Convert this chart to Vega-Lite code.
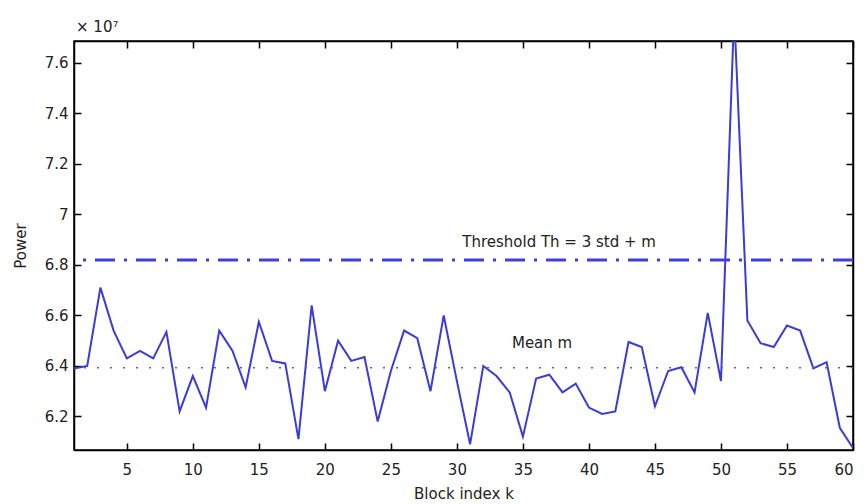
{
  "$schema": "https://vega.github.io/schema/vega-lite/v6.json",
  "width": 779,
  "height": 409,
  "autosize": "none",
  "padding": {"left": 74, "top": 41, "right": 11, "bottom": 54},
  "background": "white",
  "config": {
    "view": {"stroke": "black", "strokeWidth": 1.5},
    "font": "DejaVu Sans",
    "axis": {
      "domainColor": "black",
      "domainWidth": 1.5,
      "tickColor": "black",
      "tickWidth": 1.5,
      "tickSize": -7,
      "labelFont": "DejaVu Sans",
      "labelFontSize": 15,
      "labelColor": "#222",
      "titleFont": "DejaVu Sans",
      "titleFontSize": 15,
      "titleFontWeight": "normal",
      "titleColor": "#222",
      "grid": false
    }
  },
  "data": {"values": [
    {"k": 1, "p": 6.39}, {"k": 2, "p": 6.40}, {"k": 3, "p": 6.71}, {"k": 4, "p": 6.54}, {"k": 5, "p": 6.43},
    {"k": 6, "p": 6.46}, {"k": 7, "p": 6.43}, {"k": 8, "p": 6.535}, {"k": 9, "p": 6.22}, {"k": 10, "p": 6.36},
    {"k": 11, "p": 6.235}, {"k": 12, "p": 6.54}, {"k": 13, "p": 6.46}, {"k": 14, "p": 6.315}, {"k": 15, "p": 6.575},
    {"k": 16, "p": 6.42}, {"k": 17, "p": 6.41}, {"k": 18, "p": 6.11}, {"k": 19, "p": 6.64}, {"k": 20, "p": 6.30},
    {"k": 21, "p": 6.50}, {"k": 22, "p": 6.42}, {"k": 23, "p": 6.435}, {"k": 24, "p": 6.18}, {"k": 25, "p": 6.38},
    {"k": 26, "p": 6.54}, {"k": 27, "p": 6.51}, {"k": 28, "p": 6.30}, {"k": 29, "p": 6.60}, {"k": 30, "p": 6.34},
    {"k": 31, "p": 6.09}, {"k": 32, "p": 6.40}, {"k": 33, "p": 6.36}, {"k": 34, "p": 6.295}, {"k": 35, "p": 6.12},
    {"k": 36, "p": 6.35}, {"k": 37, "p": 6.365}, {"k": 38, "p": 6.295}, {"k": 39, "p": 6.33}, {"k": 40, "p": 6.235},
    {"k": 41, "p": 6.21}, {"k": 42, "p": 6.22}, {"k": 43, "p": 6.495}, {"k": 44, "p": 6.475}, {"k": 45, "p": 6.24},
    {"k": 46, "p": 6.38}, {"k": 47, "p": 6.395}, {"k": 48, "p": 6.295}, {"k": 49, "p": 6.61}, {"k": 50, "p": 6.34},
    {"k": 51, "p": 7.80}, {"k": 52, "p": 6.58}, {"k": 53, "p": 6.49}, {"k": 54, "p": 6.475}, {"k": 55, "p": 6.56},
    {"k": 56, "p": 6.54}, {"k": 57, "p": 6.39}, {"k": 58, "p": 6.415}, {"k": 59, "p": 6.155}, {"k": 60, "p": 6.075}
  ]},
  "resolve": {"axis": {"x": "independent", "y": "independent"}},
  "layer": [
    {
      "mark": {"type": "line", "color": "#3b3bd9", "strokeWidth": 2, "clip": true},
      "encoding": {
        "x": {"field": "k", "type": "quantitative",
              "scale": {"domain": [1, 60], "nice": false, "zero": false},
              "axis": {"orient": "bottom", "values": [5,10,15,20,25,30,35,40,45,50,55,60], "labelPadding": 19, "title": "Block index k", "titlePadding": 9}},
        "y": {"field": "p", "type": "quantitative",
              "scale": {"domain": [6.067, 7.687], "nice": false, "zero": false},
              "axis": {"orient": "left", "values": [6.2,6.4,6.6,6.8,7.0,7.2,7.4,7.6], "format": ".1~f", "labelPadding": 13, "title": "Power", "titlePadding": 16}}
      }
    },
    {
      "mark": {"type": "point", "opacity": 0},
      "encoding": {
        "x": {"field": "k", "type": "quantitative",
              "axis": {"orient": "top", "values": [5,10,15,20,25,30,35,40,45,50,55,60], "labels": false, "title": null}},
        "y": {"field": "p", "type": "quantitative",
              "axis": {"orient": "right", "values": [6.2,6.4,6.6,6.8,7.0,7.2,7.4,7.6], "labels": false, "title": null}}
      }
    },
    {
      "data": {"values": [{"th": 6.82}]},
      "mark": {"type": "rule", "color": "#3f3fdc", "strokeWidth": 3, "strokeDash": [20, 9, 3, 9]},
      "encoding": {"y": {"field": "th", "type": "quantitative", "axis": null}}
    },
    {
      "data": {"values": [{"m": 6.393}]},
      "mark": {"type": "rule", "color": "#5a5ad0", "strokeWidth": 1.5, "strokeDash": [2, 11]},
      "encoding": {"y": {"field": "m", "type": "quantitative", "axis": null}}
    },
    {
      "data": {"values": [
        {"label": "Threshold Th = 3 std + m", "lx": 37.74, "ly": 6.892},
        {"label": "Mean m", "lx": 36.45, "ly": 6.491}
      ]},
      "mark": {"type": "text", "fontSize": 15, "color": "#222", "font": "DejaVu Sans", "align": "center", "baseline": "middle"},
      "encoding": {
        "x": {"field": "lx", "type": "quantitative", "axis": null},
        "y": {"field": "ly", "type": "quantitative", "axis": null},
        "text": {"field": "label"}
      }
    },
    {
      "data": {"values": [{"label": "× 10⁷", "lx": 1, "ly": 7.687}]},
      "mark": {"type": "text", "fontSize": 15, "color": "#222", "font": "DejaVu Sans", "align": "left", "baseline": "bottom", "dx": 2, "dy": -6, "clip": false},
      "encoding": {
        "x": {"field": "lx", "type": "quantitative", "axis": null},
        "y": {"field": "ly", "type": "quantitative", "axis": null},
        "text": {"field": "label"}
      }
    }
  ]
}
